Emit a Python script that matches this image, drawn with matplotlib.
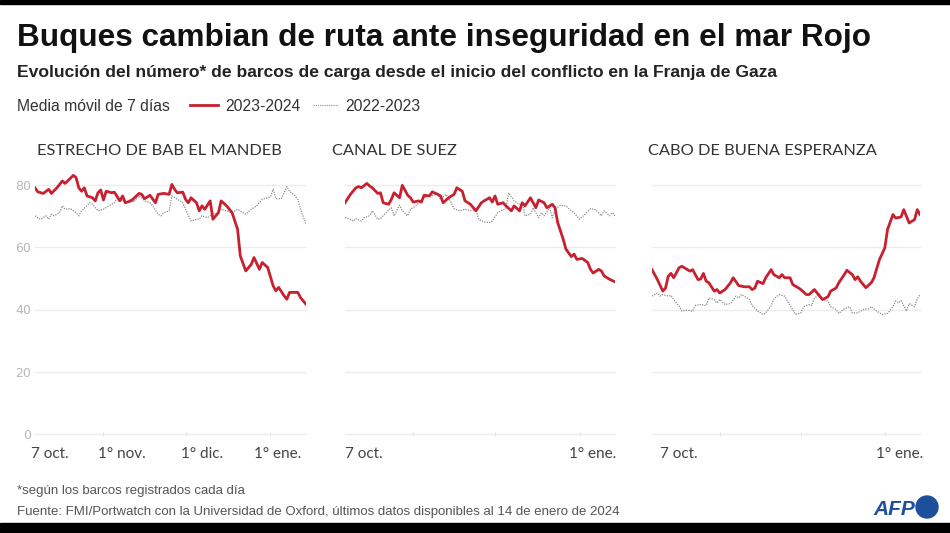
import matplotlib
matplotlib.use("Agg")
import matplotlib.pyplot as plt
import matplotlib.dates as mdates
from matplotlib import font_manager
from matplotlib.lines import Line2D
from matplotlib.patches import Rectangle, Ellipse
from matplotlib.transforms import ScaledTranslation
import pandas as pd

# ---- data, days counted from 7 Oct 2023 ----
START = pd.Timestamp("2023-10-07")

bab_days_2324 = [0, 1, 3, 5, 6, 8, 10, 11, 14, 15, 16, 17, 18, 19, 21, 22, 23, 24, 25, 26,
                 28, 29, 31, 32, 33, 35, 36, 38, 39, 40, 42, 44, 45, 47, 49, 50, 51, 52, 54, 55,
                 56, 57, 59, 60, 61, 62, 64, 65, 67, 68, 70, 72, 74, 75, 77, 79, 80, 82, 83, 85,
                 87, 88, 89, 91, 92, 93, 96, 97, 99]
bab_vals_2324 = [79.1, 77.8, 77.3, 78.6, 77.3, 79.1, 81.3, 80.5, 83.1, 82.4, 79.1, 78.0, 79.1, 76.5,
                 75.9, 74.9, 77.5, 78.4, 75.2, 78.0, 77.5, 77.7, 74.9, 76.5, 74.3, 74.9, 75.6, 77.3,
                 77.0, 75.6, 76.7, 74.3, 77.0, 77.3, 77.0, 80.2, 78.6, 77.5, 77.7, 75.4, 74.3, 75.9,
                 74.3, 71.7, 73.3, 72.2, 74.9, 69.0, 71.1, 74.9, 73.3, 71.1, 65.8, 57.2, 52.4, 54.5,
                 56.7, 52.9, 55.1, 53.5, 47.6, 46.0, 47.1, 44.4, 43.3, 45.5, 45.5, 43.8, 41.7]
bab_days_2223 = [0, 1, 2, 4, 5, 6, 7, 9, 10, 11, 13, 15, 16, 17, 19, 20, 21, 23, 25, 27,
                 29, 30, 32, 34, 35, 36, 38, 39, 40, 42, 43, 45, 46, 47, 49, 50, 52, 54, 55, 57,
                 59, 60, 61, 63, 65, 67, 68, 70, 72, 74, 76, 77, 79, 81, 83, 85, 86, 87, 88, 90,
                 92, 93, 95, 96, 97, 99]
bab_vals_2223 = [70.1, 69.5, 69.0, 70.1, 69.0, 70.6, 70.1, 71.1, 73.3, 72.2, 72.4, 71.1, 70.1, 71.7,
                 73.3, 74.3, 73.8, 71.7, 72.2, 73.3, 74.3, 75.6, 74.9, 74.3, 75.6, 74.5, 76.5, 75.9,
                 74.9, 74.3, 73.3, 70.6, 70.1, 71.1, 71.7, 76.5, 75.4, 74.3, 72.2, 68.4, 69.0, 69.0,
                 70.1, 69.5, 70.6, 71.1, 72.2, 71.7, 71.1, 72.2, 71.1, 70.6, 72.2, 73.3, 75.4, 75.9,
                 76.2, 78.6, 75.6, 75.6, 79.5, 78.0, 76.5, 75.4, 72.2, 67.4]

suez_days_2324 = [0, 2, 4, 5, 6, 8, 9, 10, 12, 13, 14, 16, 17, 18, 20, 21, 23, 24, 25, 27,
                  28, 29, 31, 32, 34, 35, 36, 38, 40, 41, 43, 44, 46, 48, 50, 51, 53, 54, 55, 56,
                  58, 59, 61, 62, 64, 65, 66, 68, 70, 71, 73, 74, 76, 77, 78, 80, 81, 83, 84, 85,
                  87, 89, 90, 91, 93, 94, 95, 97, 99]
suez_vals_2324 = [74.3, 77.0, 79.1, 79.5, 79.1, 80.5, 79.7, 79.1, 77.3, 77.5, 74.3, 73.8, 75.4, 77.5,
                  75.9, 79.9, 76.7, 75.9, 74.5, 74.9, 74.5, 76.7, 76.5, 77.8, 77.0, 76.5, 74.3, 75.9,
                  77.0, 79.1, 78.0, 74.9, 73.8, 71.7, 74.3, 74.9, 75.9, 74.5, 76.5, 73.8, 74.3, 73.3,
                  71.7, 73.3, 71.7, 74.3, 73.3, 75.9, 72.7, 75.2, 74.3, 72.7, 73.8, 72.7, 67.9, 62.6,
                  59.4, 57.0, 57.8, 56.1, 56.4, 55.1, 52.9, 51.7, 52.9, 52.4, 50.8, 49.7, 48.9]
suez_days_2223 = [0, 2, 3, 4, 6, 7, 9, 10, 12, 13, 15, 17, 18, 20, 21, 23, 24, 26, 28, 29,
                  31, 34, 35, 37, 39, 40, 42, 44, 46, 48, 49, 51, 53, 54, 56, 57, 59, 60, 62, 64,
                  65, 66, 68, 69, 71, 72, 73, 75, 76, 77, 79, 81, 83, 84, 86, 88, 90, 92, 94, 95,
                  97, 98, 99]
suez_vals_2223 = [69.5, 69.0, 68.4, 69.2, 68.4, 69.5, 70.1, 71.7, 69.0, 69.2, 71.1, 72.7, 70.1, 73.5,
                  71.7, 70.1, 72.2, 73.3, 75.2, 75.9, 76.5, 77.0, 75.4, 77.0, 74.3, 72.4, 71.7, 72.2,
                  71.7, 72.2, 69.0, 68.1, 67.9, 68.4, 71.1, 71.7, 72.4, 77.5, 74.9, 73.8, 74.3, 70.1,
                  70.6, 72.7, 69.5, 71.1, 70.1, 72.7, 69.5, 72.2, 73.5, 73.3, 71.7, 71.1, 69.0, 70.6,
                  72.4, 72.0, 70.1, 71.7, 70.1, 71.1, 70.1]

cabo_days_2324 = [0, 2, 4, 5, 6, 7, 8, 10, 11, 12, 14, 15, 17, 18, 19, 20, 21, 23, 24, 25,
                  27, 29, 30, 32, 34, 36, 37, 38, 39, 41, 42, 44, 45, 47, 48, 49, 51, 52, 54, 55,
                  57, 58, 60, 61, 63, 65, 66, 68, 69, 71, 72, 74, 75, 76, 77, 79, 81, 82, 84, 86,
                  87, 89, 90, 92, 93, 95, 97, 98, 99]
cabo_vals_2324 = [52.8, 49.6, 45.9, 46.9, 50.7, 51.6, 50.2, 53.4, 53.9, 53.4, 52.3, 52.8, 49.6, 49.8,
                  51.6, 49.1, 48.6, 45.9, 46.4, 45.3, 46.4, 48.6, 50.2, 47.7, 47.3, 47.3, 46.4, 46.9,
                  49.1, 48.3, 50.2, 52.8, 51.2, 50.2, 51.2, 50.2, 50.2, 48.0, 47.0, 46.4, 44.8, 44.8,
                  46.4, 45.3, 43.2, 44.1, 45.9, 46.9, 48.6, 51.2, 52.6, 51.2, 49.6, 50.5, 49.1, 47.0,
                  48.6, 50.2, 56.0, 59.8, 65.7, 70.5, 69.4, 69.7, 72.1, 67.8, 68.9, 72.1, 70.5]
cabo_days_2223 = [0, 2, 3, 4, 6, 7, 8, 10, 11, 13, 15, 16, 18, 20, 21, 23, 24, 25, 27, 29,
                  31, 32, 33, 34, 36, 37, 39, 41, 42, 44, 45, 47, 49, 50, 52, 53, 55, 56, 58, 59,
                  60, 62, 63, 65, 66, 68, 69, 71, 73, 74, 76, 78, 80, 81, 83, 85, 87, 89, 90, 91,
                  92, 94, 95, 97, 98, 99]
cabo_vals_2223 = [44.3, 45.3, 44.3, 44.8, 44.3, 44.5, 43.2, 41.1, 39.5, 39.8, 39.5, 41.3, 41.6, 41.3,
                  43.7, 43.2, 42.1, 43.2, 41.6, 41.9, 44.3, 43.7, 44.8, 44.3, 43.2, 41.3, 39.5, 38.4,
                  38.9, 41.1, 43.4, 44.8, 44.3, 42.7, 40.0, 38.4, 38.9, 40.9, 41.6, 41.3, 43.7, 44.8,
                  43.2, 42.7, 40.9, 40.0, 38.7, 40.2, 40.9, 38.9, 38.9, 40.0, 40.2, 40.9, 39.5, 38.4,
                  38.7, 40.9, 42.7, 42.1, 42.9, 39.5, 41.9, 40.9, 43.4, 44.8]

panel_titles = ["ESTRECHO DE BAB EL MANDEB", "CANAL DE SUEZ", "CABO DE BUENA ESPERANZA"]
y_ticks = [0, 20, 40, 60, 80]
label_sets = [
    [("2023-10-07", "7 oct."), ("2023-11-01", "1° nov."), ("2023-12-01", "1° dic."), ("2024-01-01", "1° ene.")],
    [("2023-10-07", "7 oct."), ("2024-01-01", "1° ene.")],
    [("2023-10-07", "7 oct."), ("2024-01-01", "1° ene.")],
]

# ---- fonts ----
names = {f.name for f in font_manager.fontManager.ttflist}
NARROW = "Liberation Sans Narrow" if "Liberation Sans Narrow" in names else "Liberation Sans"
BODY = "Lato" if "Lato" in names else "DejaVu Sans"

RED = "#c8202f"
GREY = "#8c8c8c"
W, H = 950, 533

fig = plt.figure(figsize=(W / 100, H / 100), dpi=100)
fig.patch.set_facecolor("white")


def fx(px):
    return px / W


def fy(py):
    return 1 - py / H


# black bars top and bottom
fig.add_artist(Rectangle((0, fy(4)), 1, 4 / H, transform=fig.transFigure, color="black"))
fig.add_artist(Rectangle((0, 0), 1, 10 / H, transform=fig.transFigure, color="black"))

fig.text(fx(17), fy(46), "Buques cambian de ruta ante inseguridad en el mar Rojo",
         fontsize=22.7, fontweight="bold", family=NARROW, color="#111111")
fig.text(fx(17), fy(77), "Evolución del número* de barcos de carga desde el inicio del conflicto en la Franja de Gaza",
         fontsize=12.6, fontweight="bold", family=NARROW, color="#222222")

# legend row
fig.text(fx(17), fy(111), "Media móvil de 7 días", fontsize=11.3, family=NARROW, color="#333333")
fig.add_artist(Line2D([fx(190), fx(218)], [fy(105), fy(105)], transform=fig.transFigure,
                      color=RED, lw=2))
fig.text(fx(225), fy(111), "2023-2024", fontsize=11.3, family=NARROW, color="#333333")
fig.add_artist(Line2D([fx(313), fx(338)], [fy(105), fy(105)], transform=fig.transFigure,
                      color=GREY, lw=0.8, ls=(0, (1, 1))))
fig.text(fx(345), fy(111), "2022-2023", fontsize=11.3, family=NARROW, color="#333333")

# footer
fig.text(fx(17), fy(494), "*según los barcos registrados cada día", fontsize=9.5,
         family=NARROW, color="#555555")
fig.text(fx(17), fy(515), "Fuente: FMI/Portwatch con la Universidad de Oxford, últimos datos disponibles al 14 de enero de 2024",
         fontsize=9.5, family=NARROW, color="#555555")

# AFP logo
fig.text(fx(873), fy(515), "AFP", fontsize=15, fontweight="bold", style="italic",
         family="Liberation Sans", color="#1d4f9c")
fig.add_artist(Ellipse((fx(927), fy(507)), 22 / W, 22 / H, transform=fig.transFigure,
                       color="#1d4f9c"))

# panels
panel_left = [35, 345, 652]
panel_right = [306, 615, 920]
title_x = [37, 332, 648]
label_shift = [[-4, 18, 17, 7], [0, 13], [8, 15]]
series = [
    (bab_days_2324, bab_vals_2324, bab_days_2223, bab_vals_2223),
    (suez_days_2324, suez_vals_2324, suez_days_2223, suez_vals_2223),
    (cabo_days_2324, cabo_vals_2324, cabo_days_2223, cabo_vals_2223),
]
ymax = 85
ax_bottom, ax_top = 434, 434 - ymax * 3.1125

for i in range(3):
    ax = fig.add_axes([fx(panel_left[i]), fy(ax_bottom), (panel_right[i] - panel_left[i]) / W,
                       (ax_bottom - ax_top) / H])
    d24, v24, d23, v23 = series[i]
    x24 = START + pd.to_timedelta(d24, unit="D")
    x23 = START + pd.to_timedelta(d23, unit="D")
    ax.plot(x23, v23, color=GREY, lw=0.9, ls=(0, (1, 1)), zorder=2)
    ax.plot(x24, v24, color=RED, lw=2, zorder=3, solid_joinstyle="round")
    ax.set_xlim(START, START + pd.Timedelta(days=99))
    ax.set_ylim(0, ymax)
    for s in ax.spines.values():
        s.set_visible(False)
    ax.set_yticks(y_ticks)
    ax.yaxis.grid(True, color="#ececec", lw=1)
    for gl in ax.get_ygridlines():
        gl.set_clip_on(False)
    ax.set_axisbelow(True)
    ax.tick_params(axis="y", length=0, pad=3, labelsize=9, labelcolor="#b8b8b8")
    if i > 0:
        ax.set_yticklabels([])
    ax.xaxis.remove_overlapping_locs = False
    ax.xaxis.set_minor_locator(mdates.MonthLocator())
    ax.tick_params(axis="x", which="minor", length=3, direction="inout", color="#dddddd")
    labs = label_sets[i]
    ax.set_xticks([pd.Timestamp(d) for d, _ in labs])
    ax.set_xticklabels([t for _, t in labs], family=BODY, fontsize=11, color="#444444")
    ax.tick_params(axis="x", which="major", length=0, pad=9)
    for k, lab in enumerate(ax.get_xticklabels()):
        if k == 0:
            lab.set_horizontalalignment("left")
        lab.set_transform(lab.get_transform() +
                          ScaledTranslation(label_shift[i][k] / 100, 0, fig.dpi_scale_trans))
    fig.text(fx(title_x[i]), fy(155), panel_titles[i], fontsize=11.8, family=BODY,
             color="#333333")

fig.savefig("out.png", dpi=100, facecolor="white")
